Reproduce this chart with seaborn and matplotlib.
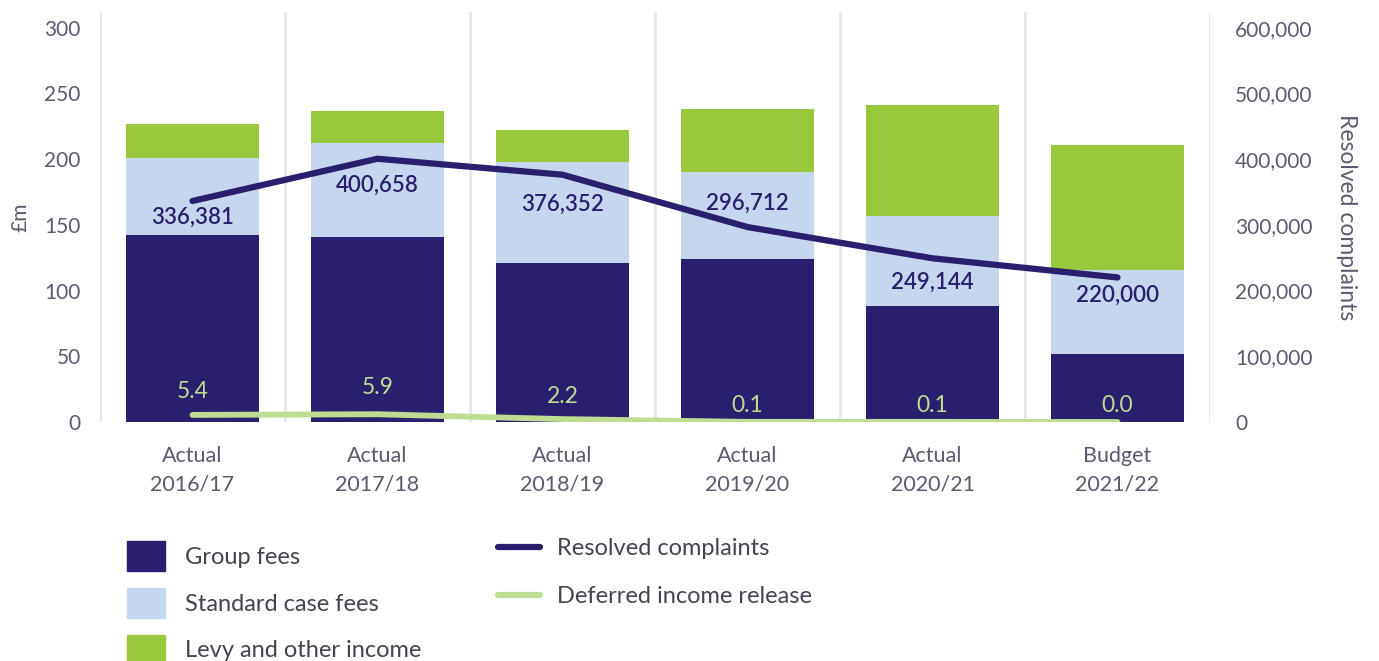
"""
Income breakdown vs resolved complaints - stacked bars with two line series.
"""

import numpy as np
import matplotlib.pyplot as plt
import seaborn as sns
from matplotlib.patches import Patch
from matplotlib.lines import Line2D
from matplotlib.ticker import FuncFormatter

# ---------- Data ----------
years = ["Actual\n2016/17", "Actual\n2017/18", "Actual\n2018/19",
         "Actual\n2019/20", "Actual\n2020/21", "Budget\n2021/22"]
group_fees = [142, 141, 121, 124, 88, 52]
standard_fees = [59, 71, 77, 66, 69, 64]
levy_other = [26, 25, 24, 48, 84, 95]
resolved = [336381, 400658, 376352, 296712, 249144, 220000]
deferred = [5.4, 5.9, 2.2, 0.1, 0.1, 0.0]

# label offsets (points) for the line labels
resolved_dy = [-12, -19, -21, 17, -17, -13]
deferred_dy = [17, 19, 16, 12, 12, 12]

NAVY = "#2a1e6e"
LIGHT = "#c5d6ee"
GREEN = "#9ac83c"
PALEGREEN = "#bfdd92"
GREY = "#5b5b6e"

sns.set_theme(style="white")
plt.rcParams["font.family"] = ["Lato", "DejaVu Sans"]

x = np.arange(len(years))
bottom_std = np.array(group_fees)
top_total = bottom_std + np.array(standard_fees) + np.array(levy_other)

fig = plt.figure(figsize=(13.79, 6.61), dpi=100)
ax = fig.add_axes([100 / 1379, 1 - 422 / 661, 1110 / 1379, 410 / 661])

# stacked bars drawn as layered totals
bar_kw = dict(width=0.72, saturation=1, linewidth=0, ax=ax, zorder=2)
sns.barplot(x=x, y=top_total, color=GREEN, **bar_kw)
sns.barplot(x=x, y=bottom_std + np.array(standard_fees), color=LIGHT, **bar_kw)
sns.barplot(x=x, y=group_fees, color=NAVY, **bar_kw)

# deferred income line on the £m axis
sns.lineplot(x=x, y=deferred, color=PALEGREEN, lw=4.2, ax=ax, zorder=5,
             solid_capstyle="round")
for xi, v, dy in zip(x, deferred, deferred_dy):
    ax.annotate(f"{v:.1f}", (xi, v), xytext=(0, dy), textcoords="offset points",
                ha="center", va="center", fontsize=16.5, color=PALEGREEN, zorder=6)

ax.set_xlim(-0.5, 5.5)
ax.set_ylim(0, 312)
ax.set_yticks(range(0, 301, 50))
ax.set_xticks(x)
ax.set_xticklabels(years, fontsize=15.5, color=GREY, linespacing=1.55)
ax.set_xticks(np.arange(-0.5, 6, 1), minor=True)
ax.grid(axis="x", which="minor", color="#e6e6ec", lw=2, zorder=0)
ax.grid(axis="x", which="major", visible=False)
ax.tick_params(axis="y", labelsize=15, labelcolor=GREY, length=0, pad=14)
ax.tick_params(axis="x", which="both", length=0, pad=17)
ax.set_ylabel("£m", fontsize=15, color=GREY, labelpad=10)
for s in ax.spines.values():
    s.set_visible(False)

# resolved complaints on the right axis
ax2 = ax.twinx()
sns.lineplot(x=x, y=resolved, color=NAVY, lw=4.5, ax=ax2, zorder=5,
             solid_capstyle="round")
for xi, v, dy in zip(x, resolved, resolved_dy):
    ax2.annotate(f"{v:,}", (xi, v), xytext=(0, dy), textcoords="offset points",
                 ha="center", va="center", fontsize=16, fontweight="semibold",
                 color=NAVY, zorder=6)
ax2.set_ylim(0, 624000)
ax2.set_yticks(range(0, 600001, 100000))
ax2.yaxis.set_major_formatter(FuncFormatter(lambda v, p: f"{int(v):,}"))
ax2.tick_params(axis="y", labelsize=15, labelcolor=GREY, length=0, pad=18)
ax2.set_ylabel("Resolved complaints", fontsize=16.5, color=GREY, rotation=-90,
               labelpad=32)
for s in ax2.spines.values():
    s.set_visible(False)
ax2.grid(False)

# ---------- Legends ----------
bar_handles = [Patch(color=NAVY, label="Group fees"),
               Patch(color=LIGHT, label="Standard case fees"),
               Patch(color=GREEN, label="Levy and other income")]
leg1 = fig.legend(handles=bar_handles, loc="upper left",
                  bbox_to_anchor=(115 / 1379, 1 - 529 / 661), frameon=False,
                  fontsize=17, handlelength=1.6, handleheight=1.6,
                  handletextpad=0.85, labelspacing=0.7, borderpad=0)
for t in leg1.get_texts():
    t.set_color("#444450")

line_handles = [Line2D([], [], color=NAVY, lw=4.5, solid_capstyle="round",
                       label="Resolved complaints"),
                Line2D([], [], color=PALEGREEN, lw=4.5, solid_capstyle="round",
                       label="Deferred income release")]
leg2 = fig.legend(handles=line_handles, loc="upper left",
                  bbox_to_anchor=(486 / 1379, 1 - 526 / 661), frameon=False,
                  fontsize=17, handlelength=1.8, handletextpad=0.7,
                  labelspacing=1.15, borderpad=0)
for t in leg2.get_texts():
    t.set_color("#444450")

fig.savefig("out.png", dpi=100)
